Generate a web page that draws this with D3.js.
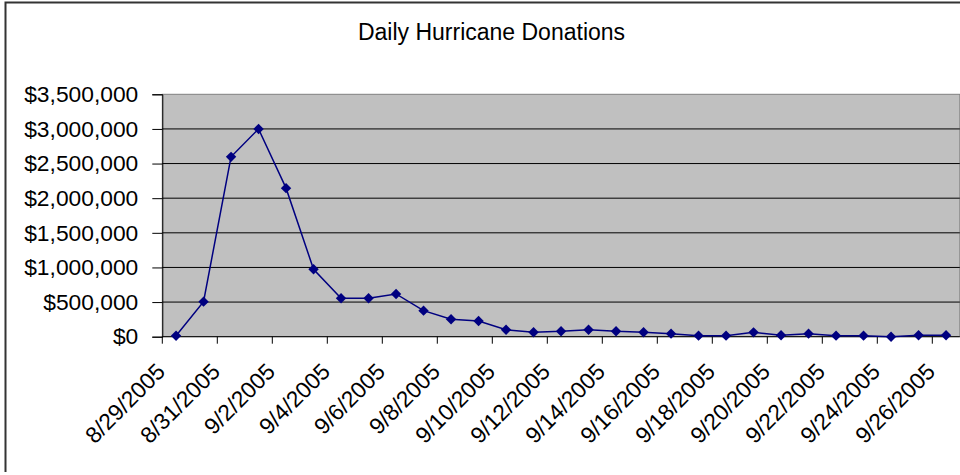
<!DOCTYPE html>
<html>
<head>
<meta charset="utf-8">
<script src="https://cdn.jsdelivr.net/npm/d3@7"></script>
<style>
  html, body { margin: 0; padding: 0; background: #fff; }
  svg { display: block; }
  text { font-family: "Liberation Sans", Arial, sans-serif; fill: #000; }
</style>
</head>
<body>
<svg id="chart" width="960" height="475"></svg>
<script>
const title = "Daily Hurricane Donations";
const dates = ["8/29/2005","8/30/2005","8/31/2005","9/1/2005","9/2/2005","9/3/2005","9/4/2005","9/5/2005",
  "9/6/2005","9/7/2005","9/8/2005","9/9/2005","9/10/2005","9/11/2005","9/12/2005","9/13/2005","9/14/2005",
  "9/15/2005","9/16/2005","9/17/2005","9/18/2005","9/19/2005","9/20/2005","9/21/2005","9/22/2005","9/23/2005",
  "9/24/2005","9/25/2005","9/26/2005"];
const donations = [14000, 506000, 2597000, 3000000, 2145000, 974000, 555000, 555000, 617000, 376000, 251000,
  227000, 101000, 64000, 78000, 101000, 78000, 64000, 44000, 15000, 15000, 63000, 20000, 44000, 15000, 15000,
  0, 20000, 20000];
const yTicks = [0, 500000, 1000000, 1500000, 2000000, 2500000, 3000000, 3500000];

const svg = d3.select("#chart");
const L = 162.3, R = 959.8, T = 94.3, B = 336.7;

// outer chart border
svg.append("path").attr("d", "M5.5,472 V2.5 H960").attr("fill", "none")
  .attr("stroke", "#333").attr("stroke-width", 2);

svg.append("text").attr("x", 491.5).attr("y", 40).attr("text-anchor", "middle")
  .attr("font-size", 23).text(title);

const x = d3.scaleBand().domain(dates).range([L, R]).padding(0);
const y = d3.scaleLinear().domain([0, 3500000]).range([B, T]);

// plot area
svg.append("rect").attr("x", L).attr("y", T).attr("width", R - L).attr("height", B - T)
  .attr("fill", "#C0C0C0").attr("stroke", "#808080").attr("stroke-width", 1);

// gridlines
svg.append("g").selectAll("line").data(yTicks.slice(1, -1)).join("line")
  .attr("x1", L).attr("x2", R).attr("y1", d => y(d)).attr("y2", d => y(d))
  .attr("stroke", "#000").attr("stroke-width", 1);

// y axis
const fmt = d => "$" + d3.format(",")(d);
const yAxis = svg.append("g").attr("transform", `translate(${L},0)`)
  .call(d3.axisLeft(y).tickValues(yTicks).tickFormat(fmt).tickSize(10).tickPadding(14));
yAxis.select(".domain").attr("stroke", "#000");
yAxis.selectAll(".tick line").attr("stroke", "#000");
yAxis.selectAll("text").attr("font-size", 22.8).attr("font-family", "Liberation Sans, Arial, sans-serif")
  .attr("fill", "#000");

// x axis line
svg.append("line").attr("x1", L).attr("x2", R).attr("y1", B).attr("y2", B)
  .attr("stroke", "#000").attr("stroke-width", 1);

const labelDates = dates.filter((d, i) => i % 2 === 0);
// tick marks between categories, every second category
svg.append("g").selectAll("line").data(labelDates).join("line")
  .attr("x1", d => x(d)).attr("x2", d => x(d)).attr("y1", B).attr("y2", B + 7)
  .attr("stroke", "#000");

// x labels
svg.append("g").selectAll("text").data(labelDates).join("text")
  .attr("text-anchor", "end").attr("font-size", 22.8)
  .attr("transform", d => `translate(${x(d) + x.bandwidth() / 2 - 9.7},373) rotate(-45)`)
  .text(d => d);

// line
const cx = d => x(d) + x.bandwidth() / 2;
const line = d3.line().x((d, i) => cx(dates[i])).y(d => y(d));
svg.append("path").datum(donations).attr("d", line).attr("fill", "none")
  .attr("stroke", "#000080").attr("stroke-width", 1.5);

// diamond markers
svg.append("g").selectAll("path").data(donations).join("path")
  .attr("transform", (d, i) => `translate(${cx(dates[i])},${y(d)})`)
  .attr("d", "M0,-5.2L5.2,0L0,5.2L-5.2,0Z")
  .attr("fill", "#000080");
</script>
</body>
</html>
